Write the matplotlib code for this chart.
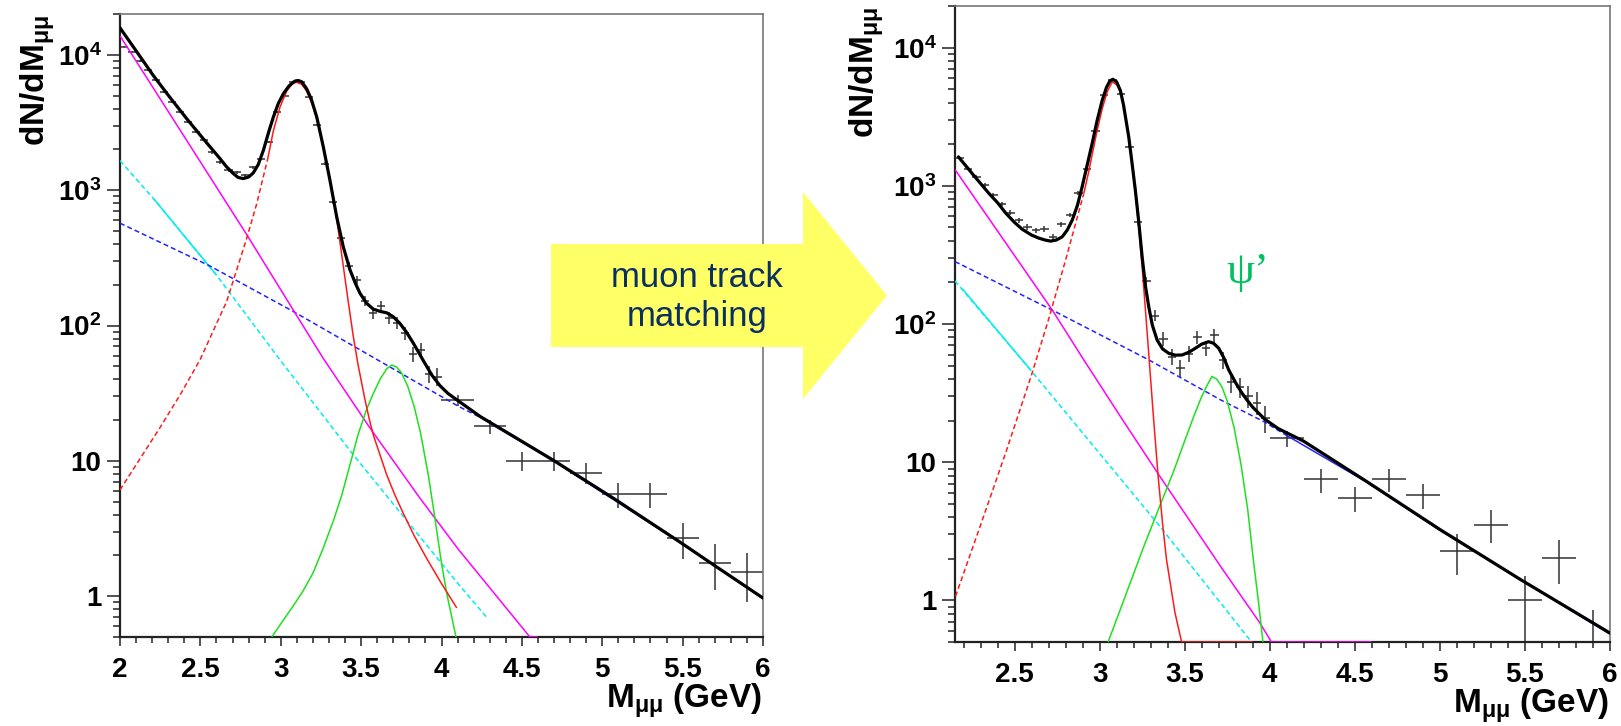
import matplotlib
matplotlib.use('Agg')
import matplotlib.pyplot as plt
from matplotlib.ticker import FixedLocator, FixedFormatter, MultipleLocator, LogLocator, NullFormatter
from matplotlib.patches import Polygon

plt.rcParams['font.family'] = ['Liberation Sans', 'DejaVu Sans']
plt.rcParams['font.weight'] = 'bold'
plt.rcParams['mathtext.fontset'] = 'custom'
plt.rcParams['mathtext.rm'] = 'Liberation Sans:bold'
plt.rcParams['mathtext.bf'] = 'Liberation Sans:bold'
plt.rcParams['mathtext.sf'] = 'Liberation Sans'
plt.rcParams['mathtext.it'] = 'Liberation Sans:italic'
plt.rcParams['mathtext.default'] = 'rm'
plt.rcParams['lines.scale_dashes'] = False

# ---------------- common axis labels ----------------
Y_TICKS = [1, 10, 100, 1000, 10000]
Y_TICK_LABELS = ['1', '10', r'$10^{2}$', r'$10^{3}$', r'$10^{4}$']
L_XTICKS = [2, 2.5, 3, 3.5, 4, 4.5, 5, 5.5, 6]
L_XTICK_LABELS = ['2', '2.5', '3', '3.5', '4', '4.5', '5', '5.5', '6']
R_XTICKS = [2.5, 3, 3.5, 4, 4.5, 5, 5.5, 6]
R_XTICK_LABELS = ['2.5', '3', '3.5', '4', '4.5', '5', '5.5', '6']
Y_LABEL = r'dN/dM$_{\mathsf{μμ}}$'
X_LABEL = r'M$_{\mathsf{μμ}}$ (GeV)'
ARROW_TEXT = 'muon track\nmatching'
PSI_TEXT = 'ψ’'

# ---------------- left panel: data ----------------
L_x = [2.025, 2.075, 2.125, 2.175, 2.225, 2.275, 2.325, 2.375, 2.425, 2.475,
       2.525, 2.575, 2.625, 2.675, 2.725, 2.775, 2.825, 2.875, 2.925, 2.975,
       3.025, 3.075, 3.125, 3.175, 3.225, 3.275, 3.325, 3.375, 3.425, 3.475,
       3.525, 3.575, 3.625, 3.675, 3.725, 3.775, 3.825, 3.875, 3.925, 3.975,
       4.1, 4.3, 4.5, 4.7, 4.9, 5.1, 5.3, 5.5, 5.7, 5.9]
L_y = [11500, 10500, 9000, 7700, 6500, 5300, 4500, 3800, 3200, 2700,
       2350, 1900, 1600, 1400, 1350, 1290, 1470, 1710, 2270, 3770,
       5000, 6270, 6270, 4860, 3010, 1570, 820, 440, 275, 217,
       152, 123, 140, 114, 105, 88, 62, 66, 44, 42,
       28, 18, 10, 10, 8.2, 5.7, 5.7, 2.7, 1.77, 1.5]
L_xerr = [0.025] * 40 + [0.1] * 10
L_yerr = [107, 102, 95, 88, 81, 73, 67, 62, 57, 52,
          48, 44, 40, 37, 37, 36, 38, 41, 48, 61,
          71, 79, 79, 70, 55, 40, 29, 21, 17, 15,
          12, 11, 12, 11, 10, 9.4, 7.9, 8.1, 6.6, 6.5,
          2.6, 2.1, 1.6, 1.6, 1.4, 1.2, 1.2, 0.8, 0.66, 0.6]

# left panel: fit curves
L_total_x = [2.0, 2.1, 2.207, 2.31, 2.415, 2.52, 2.622, 2.66, 2.705, 2.735,
             2.767, 2.80, 2.829, 2.86, 2.892, 2.925, 2.954, 2.985, 3.016, 3.05,
             3.078, 3.09, 3.109, 3.13, 3.161, 3.19, 3.224, 3.265, 3.306, 3.348,
             3.389, 3.431, 3.465, 3.493, 3.534, 3.576, 3.62, 3.66, 3.70, 3.74,
             3.78, 3.825, 3.887, 3.94, 3.99, 4.04, 4.10, 4.24, 4.447, 4.696,
             5.069, 5.484, 5.691, 6.0]
L_total_y = [15800, 10700, 7030, 4850, 3370, 2380, 1710, 1500, 1325, 1240,
             1217, 1250, 1340, 1545, 1968, 2690, 3466, 4370, 5150, 5860,
             6270, 6400, 6450, 6320, 5610, 4700, 3466, 2080, 1183, 635,
             381, 257, 204, 173, 146, 132, 127, 124, 116, 104,
             90, 74, 55, 43, 36, 31.5, 28, 21.3, 15.2, 10.1,
             5.3, 2.51, 1.71, 0.97]
L_mag_x = [2.0, 2.788, 3.078, 3.265, 3.555, 3.866, 4.105, 4.55, 4.6]
L_mag_y = [13800, 470, 130, 57, 17.5, 5.3, 2.22, 0.5, 0.5]
L_cyan_x = [2.0, 2.207, 2.6, 2.995, 3.451, 4.105, 4.29]
L_cyan_y = [1650, 870, 236, 55.8, 11.1, 1.23, 0.68]
L_cyan_solid_x = [2.207, 2.6]
L_cyan_solid_y = [870, 236]
L_blue_dash_x = [2.0, 2.56, 3.078, 4.105, 4.24]
L_blue_dash_y = [570, 275, 127, 25.3, 21.0]
L_blue_solid_x = [4.24, 4.696, 5.484, 6.0]
L_blue_solid_y = [21.0, 10.0, 2.5, 0.96]
L_red_dash_x = [2.0, 2.25, 2.38, 2.5, 2.664, 2.788, 2.85, 2.92]
L_red_dash_y = [6.1, 17.7, 31.6, 56.5, 151, 440, 789, 1726]
L_red_x = [2.92, 2.954, 2.995, 3.037, 3.07, 3.099, 3.13, 3.16, 3.2, 3.244,
           3.286, 3.327, 3.358, 3.389, 3.42, 3.45, 3.48, 3.524, 3.55, 3.576,
           3.615, 3.659, 3.71, 3.762, 3.83, 3.908, 4.0, 4.095]
L_red_y = [1726, 2740, 4100, 5390, 6070, 6270, 6040, 5420, 4200, 2760,
           1570, 891, 506, 275, 150, 85, 52, 28.3, 20.5, 15.5,
           11.3, 7.9, 5.6, 4.1, 2.8, 1.9, 1.24, 0.82]
L_green_x = [2.944, 3.01, 3.078, 3.14, 3.2, 3.26, 3.327, 3.38, 3.431, 3.48,
             3.534, 3.576, 3.62, 3.66, 3.69, 3.72, 3.75, 3.79, 3.83, 3.87,
             3.92, 3.96, 4.0, 4.032, 4.09]
L_green_y = [0.5, 0.65, 0.85, 1.1, 1.48, 2.2, 3.6, 5.6, 9.4, 15.5,
             24, 31.5, 40.5, 48, 51, 49.4, 45, 35.6, 25.2, 16,
             7.6, 3.7, 1.75, 1.06, 0.5]

# ---------------- right panel: data ----------------
R_x = [2.175, 2.225, 2.275, 2.325, 2.375, 2.425, 2.475, 2.525, 2.575, 2.625,
       2.675, 2.725, 2.775, 2.825, 2.875, 2.925, 2.975, 3.025, 3.075, 3.125,
       3.175, 3.225, 3.275, 3.325, 3.375, 3.425, 3.475, 3.525, 3.575, 3.625,
       3.675, 3.725, 3.775, 3.825, 3.875, 3.925, 3.975,
       4.1, 4.3, 4.5, 4.7, 4.9, 5.1, 5.3, 5.5, 5.7, 5.9]
R_y = [1600, 1330, 1160, 1008, 853, 740, 640, 564, 504, 477,
       488, 427, 527, 616, 888, 1320, 2500, 4540, 5800, 4630,
       1920, 548, 205, 115, 78, 58, 48, 61, 80, 67,
       83, 55, 38, 35, 30, 27, 21,
       14.9, 7.5, 5.5, 7.5, 5.8, 2.27, 3.54, 1.0, 2.03, 0.5]
R_xerr = [0.025] * 37 + [0.1] * 10
R_yerr = [40, 36.5, 34, 31.7, 29.2, 27.2, 25.3, 23.7, 22.4, 21.8,
          22.1, 20.7, 23, 24.8, 29.8, 36.3, 50, 67.4, 76.2, 68,
          43.8, 23.4, 14.3, 10.7, 8.8, 7.6, 6.9, 7.8, 8.9, 8.2,
          9.1, 7.4, 6.2, 5.9, 5.5, 5.2, 4.6,
          1.93, 1.5, 1.17, 1.37, 1.2, 0.75, 0.94, 0.5, 0.71, 0.35]

# right panel: fit curves
R_total_x = [2.17, 2.26, 2.35, 2.40, 2.45, 2.50, 2.546, 2.60, 2.643, 2.68,
             2.712, 2.745, 2.78, 2.81, 2.839, 2.87, 2.897, 2.925, 2.956, 2.985,
             3.015, 3.04, 3.06, 3.078, 3.10, 3.122, 3.14, 3.171, 3.19, 3.21,
             3.23, 3.25, 3.27, 3.289, 3.31, 3.338, 3.37, 3.406, 3.445, 3.485,
             3.525, 3.563, 3.60, 3.641, 3.67, 3.70, 3.73, 3.759, 3.80, 3.837,
             3.87, 3.90, 3.97, 4.05, 4.199, 4.568, 5.0, 5.472, 6.0]
R_total_y = [1620, 1190, 879, 755, 631, 543, 484, 440, 418, 405,
             398, 405, 427, 479, 564, 725, 980, 1380, 2018, 2950,
             4140, 5140, 5730, 5900, 5650, 4890, 3870, 2270, 1480, 929,
             550, 306, 186, 133, 98, 76.6, 66, 61.4, 59.5, 59.7,
             62.5, 66.8, 71.5, 74.5, 72.5, 66.8, 57, 46.5, 37.5, 31.6,
             27.8, 25, 20.5, 17.5, 14.2, 7.27, 3.26, 1.42, 0.58]
R_mag_x = [2.15, 2.722, 2.907, 3.129, 3.354, 3.71, 3.941, 4.01, 4.6]
R_mag_y = [1310, 126, 55, 20.8, 7.9, 1.77, 0.69, 0.5, 0.5]
R_cyan_x = [2.15, 2.594, 3.354, 3.893]
R_cyan_y = [205, 46.5, 3.44, 0.5]
R_cyan_solid_x = [2.193, 2.594]
R_cyan_solid_y = [180, 46.5]
R_blue_dash_x = [2.15, 2.722, 3.289, 3.71, 3.964, 4.1]
R_blue_dash_y = [283, 126, 55, 28.3, 19.7, 15.6]
R_blue_solid_x = [4.1, 4.568, 5.0, 6.0]
R_blue_solid_y = [15.6, 7.2, 3.22, 0.57]
R_red_dash_x = [2.153, 2.3, 2.45, 2.6, 2.7, 2.8, 2.907]
R_red_dash_y = [1.07, 3.5, 11.9, 42.9, 108, 290, 880]
R_red_x = [2.907, 2.935, 2.956, 2.985, 3.015, 3.045, 3.074, 3.10, 3.122, 3.145,
           3.171, 3.19, 3.21, 3.23, 3.25, 3.28, 3.317, 3.344, 3.37, 3.393,
           3.443, 3.482, 3.9]
R_red_y = [880, 1250, 1680, 2500, 3600, 4800, 5650, 5400, 4800, 3700,
           2230, 1450, 900, 500, 260, 85, 20.8, 7.9, 3.6, 1.98,
           0.815, 0.5, 0.5]
R_green_x = [3.05, 3.10, 3.16, 3.256, 3.344, 3.432, 3.49, 3.553, 3.60, 3.63,
             3.66, 3.69, 3.72, 3.75, 3.79, 3.83, 3.87, 3.905, 3.935, 3.96]
R_green_y = [0.5, 0.73, 1.15, 2.39, 4.5, 8.4, 13.2, 21.4, 29.9, 35.7,
             41.7, 39.8, 34.8, 27.8, 17.9, 9.8, 4.6, 1.9, 0.95, 0.5]

# ---------------- styles ----------------
DASH = (3.6, 2.2)
C_MAG = '#ff00ff'
C_CYAN = '#00eeee'
C_BLUE = '#2222ff'
C_RED = '#ff1a1a'
C_GREEN = '#1ee01e'
C_DATA = '#333333'

W, H = 1621, 726
fig = plt.figure(figsize=(W / 100, H / 100), dpi=100)
axL = fig.add_axes([120 / W, 1 - 637 / H, 643 / W, 623 / H])
axR = fig.add_axes([955 / W, 1 - 642 / H, 655 / W, 636 / H])


def style(ax, xlim, xt, xtl):
    ax.set_yscale('log')
    ax.set_xlim(*xlim)
    ax.set_ylim(0.5, 2e4)
    ax.xaxis.set_major_locator(FixedLocator(xt))
    ax.xaxis.set_major_formatter(FixedFormatter(xtl))
    ax.xaxis.set_minor_locator(MultipleLocator(0.1))
    ax.yaxis.set_major_locator(FixedLocator(Y_TICKS))
    ax.yaxis.set_major_formatter(FixedFormatter(Y_TICK_LABELS))
    ax.yaxis.set_minor_locator(LogLocator(base=10, subs=(2, 3, 4, 5, 6, 7, 8, 9), numticks=20))
    ax.yaxis.set_minor_formatter(NullFormatter())
    ax.tick_params(axis='both', which='both', direction='out', top=False, right=False,
                   color='#222222', width=1.1, labelcolor='black')
    ax.tick_params(axis='x', which='major', length=6.5, pad=8, labelsize=20)
    ax.tick_params(axis='x', which='minor', length=4.3)
    ax.tick_params(axis='y', which='major', length=9.4, pad=4, labelsize=20)
    ax.tick_params(axis='y', which='minor', length=5)
    for s in ('left', 'bottom'):
        ax.spines[s].set_linewidth(1.6)
        ax.spines[s].set_color('#222222')
    for s in ('top', 'right'):
        ax.spines[s].set_linewidth(1.2)
        ax.spines[s].set_color('#777777')


def draw_panel(ax, d):
    ax.errorbar(d['x'], d['y'], xerr=d['xerr'], yerr=d['yerr'], fmt='none',
                ecolor=C_DATA, elinewidth=1.1, capsize=0, zorder=2)
    kw = dict(lw=1.1, zorder=3, solid_capstyle='butt', solid_joinstyle='round')
    ax.plot(d['cyan_x'], d['cyan_y'], color=C_CYAN, dashes=DASH, **kw)
    ax.plot(d['cyan_sx'], d['cyan_sy'], color=C_CYAN, **kw)
    ax.plot(d['blue_dx'], d['blue_dy'], color=C_BLUE, dashes=DASH, **kw)
    ax.plot(d['blue_sx'], d['blue_sy'], color=C_BLUE, **kw)
    ax.plot(d['mag_x'], d['mag_y'], color=C_MAG, **kw)
    ax.plot(d['green_x'], d['green_y'], color=C_GREEN, **kw)
    ax.plot(d['red_dx'], d['red_dy'], color=C_RED, dashes=DASH, **kw)
    ax.plot(d['red_x'], d['red_y'], color=C_RED, **kw)
    ax.plot(d['tot_x'], d['tot_y'], color='black', lw=2.3, zorder=4,
            solid_joinstyle='round', solid_capstyle='round')


style(axL, (2, 6), L_XTICKS, L_XTICK_LABELS)
style(axR, (2.15, 6), R_XTICKS, R_XTICK_LABELS)

draw_panel(axL, dict(x=L_x, y=L_y, xerr=L_xerr, yerr=L_yerr,
                     cyan_x=L_cyan_x, cyan_y=L_cyan_y, cyan_sx=L_cyan_solid_x, cyan_sy=L_cyan_solid_y,
                     blue_dx=L_blue_dash_x, blue_dy=L_blue_dash_y, blue_sx=L_blue_solid_x, blue_sy=L_blue_solid_y,
                     mag_x=L_mag_x, mag_y=L_mag_y, green_x=L_green_x, green_y=L_green_y,
                     red_dx=L_red_dash_x, red_dy=L_red_dash_y, red_x=L_red_x, red_y=L_red_y,
                     tot_x=L_total_x, tot_y=L_total_y))
draw_panel(axR, dict(x=R_x, y=R_y, xerr=R_xerr, yerr=R_yerr,
                     cyan_x=R_cyan_x, cyan_y=R_cyan_y, cyan_sx=R_cyan_solid_x, cyan_sy=R_cyan_solid_y,
                     blue_dx=R_blue_dash_x, blue_dy=R_blue_dash_y, blue_sx=R_blue_solid_x, blue_sy=R_blue_solid_y,
                     mag_x=R_mag_x, mag_y=R_mag_y, green_x=R_green_x, green_y=R_green_y,
                     red_dx=R_red_dash_x, red_dy=R_red_dash_y, red_x=R_red_x, red_y=R_red_y,
                     tot_x=R_total_x, tot_y=R_total_y))

# axis titles (ROOT style placement)
fig.text(38 / W, 1 - 15 / H, Y_LABEL, rotation=90, ha='center', va='top', fontsize=24, fontweight='bold')
fig.text(867 / W, 1 - 7 / H, Y_LABEL, rotation=90, ha='center', va='top', fontsize=24, fontweight='bold')
fig.text(762 / W, 1 - 708 / H, X_LABEL, ha='right', va='baseline', fontsize=24, fontweight='bold')
fig.text(1609 / W, 1 - 713 / H, X_LABEL, ha='right', va='baseline', fontsize=24, fontweight='bold')

# yellow arrow between the panels
arrow_px = [(551, 244), (803, 244), (803, 192), (887, 295.5), (803, 399), (803, 347), (551, 347)]
arrow = Polygon([(px / W, 1 - py / H) for px, py in arrow_px], closed=True,
                transform=fig.transFigure, facecolor='#ffff66', edgecolor='none', zorder=5)
fig.add_artist(arrow)
fig.text(697 / W, 1 - 297 / H, ARROW_TEXT, ha='center', va='center', multialignment='center',
         fontsize=25, fontweight='normal', color='#0a3062', linespacing=1.2, zorder=6)

# psi' label
fig.text(1248 / W, 1 - 272 / H, PSI_TEXT, ha='center', va='center', fontsize=32,
         family=['Liberation Serif', 'DejaVu Serif'], fontweight='normal', color='#00c060')

fig.savefig('out.png', dpi=100, facecolor='white')
